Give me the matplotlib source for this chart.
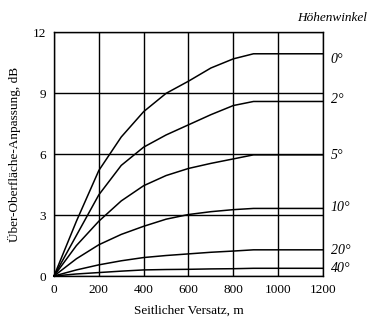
import matplotlib.pyplot as plt

plt.rcParams['font.family'] = ['Liberation Serif', 'DejaVu Serif']

# lateral offset (m) and excess attenuation (dB) for each elevation angle
offset = [0, 100, 200, 300, 400, 500, 600, 700, 800, 890, 1000, 1200]
curves = {
    '0°':  [0, 2.7, 5.2, 6.85, 8.1, 9.0, 9.6, 10.25, 10.7, 10.95, 10.95, 10.95],
    '2°':  [0, 2.0, 4.0, 5.45, 6.35, 6.95, 7.45, 7.95, 8.4, 8.6, 8.6, 8.6],
    '5°':  [0, 1.5, 2.7, 3.7, 4.45, 4.95, 5.3, 5.55, 5.77, 5.97, 5.97, 5.97],
    '10°': [0, 0.85, 1.54, 2.05, 2.45, 2.8, 3.03, 3.17, 3.27, 3.33, 3.33, 3.33],
    '20°': [0, 0.3, 0.55, 0.75, 0.91, 1.01, 1.09, 1.17, 1.23, 1.29, 1.29, 1.29],
    '40°': [0, 0.1, 0.17, 0.24, 0.3, 0.32, 0.33, 0.35, 0.36, 0.38, 0.38, 0.38],
}
label_y = {'0°': 10.65, '2°': 8.7, '5°': 5.95, '10°': 3.4, '20°': 1.25, '40°': 0.35}

fig = plt.figure(figsize=(3.76, 3.30), dpi=100, facecolor='white')
ax = fig.add_axes([0.1436, 0.1636, 0.7154, 0.738])

for name, vals in curves.items():
    ax.plot(offset, vals, color='black', lw=1.1, clip_on=False)
    ax.text(1235, label_y[name], name, fontsize=10, style='italic',
            ha='left', va='center')

ax.set_xlim(0, 1200)
ax.set_ylim(0, 12)
ax.set_xticks(range(0, 1201, 200))
ax.set_yticks([0, 3, 6, 9, 12])
ax.grid(True, color='black', lw=1.0)
for s in ax.spines.values():
    s.set_linewidth(1.0)
ax.tick_params(length=0, labelsize=9.5, pad=6)

ax.set_xlabel('Seitlicher Versatz, m', fontsize=9.5, labelpad=6)
ax.set_ylabel('Über-Oberfläche-Anpassung, dB', fontsize=9.5, labelpad=8)
ax.text(1.164, 1.06, 'Höhenwinkel', transform=ax.transAxes, fontsize=9.5,
        style='italic', ha='right', va='center')

fig.savefig('out.png', dpi=100)
